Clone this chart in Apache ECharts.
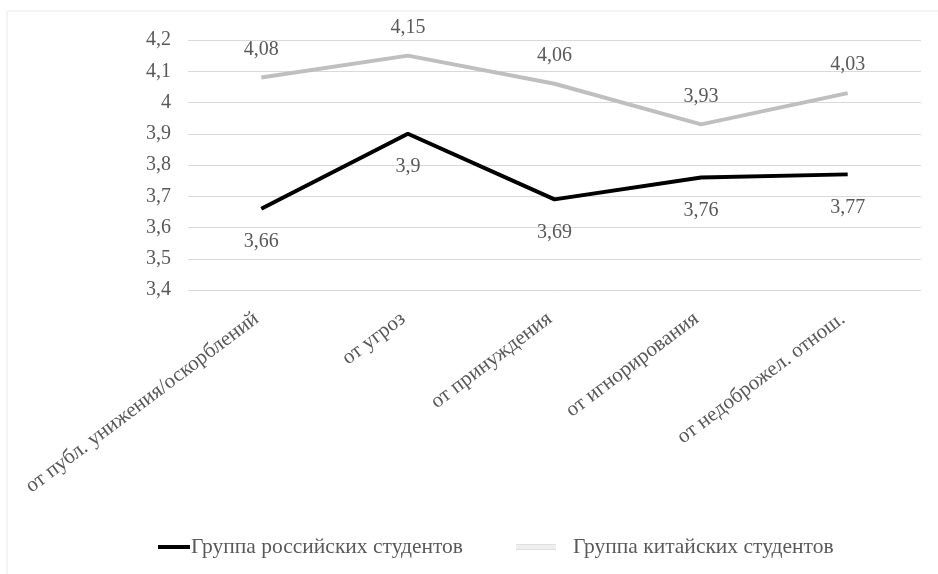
<!DOCTYPE html>
<html>
<head>
<meta charset="utf-8">
<script src="https://cdn.jsdelivr.net/npm/echarts@6/dist/echarts.min.js"></script>
<style>
html,body{margin:0;padding:0;background:#fff;}
#chart{width:938px;height:574px;}
</style>
</head>
<body>
<div id="chart"></div>
<script>
var categories = ['от публ. унижения/оскорблений', 'от угроз', 'от принуждения', 'от игнорирования', 'от недоброжел. отнош.'];
var russianValues = [3.66, 3.9, 3.69, 3.76, 3.77];
var chineseValues = [4.08, 4.15, 4.06, 3.93, 4.03];
var seriesNames = ['Группа российских студентов', 'Группа китайских студентов'];

var fmt = function (v) { return String(+(+v).toFixed(2)).replace('.', ','); };
var FONT = '"Liberation Serif", "Times New Roman", serif';
var TXT = '#595959';

var chart = echarts.init(document.getElementById('chart'));
chart.setOption({
  animation: false,
  backgroundColor: '#fff',
  textStyle: { fontFamily: FONT },
  graphic: [
    { type: 'line', shape: { x1: 7, y1: 11, x2: 938, y2: 11 }, style: { stroke: '#e8e8e8', lineWidth: 1 } },
    { type: 'line', shape: { x1: 7, y1: 11, x2: 7, y2: 574 }, style: { stroke: '#e8e8e8', lineWidth: 1 } }
  ],
  grid: { left: 188, right: 17, top: 40, bottom: 284, containLabel: false },
  legend: [
    {
      data: [{ name: seriesNames[0], icon: 'rect' }],
      left: 153, top: 531, itemWidth: 32, itemHeight: 4, itemGap: 0,
      textStyle: { fontFamily: FONT, fontSize: 21.5, color: TXT, padding: [0, 0, 0, -4] }
    },
    {
      data: [{ name: seriesNames[1], icon: 'path://M0,0H56V1H0Z M0,3H56V4H0Z M0,6H56V7H0Z' }],
      left: 511, top: 531, itemWidth: 58, itemHeight: 5, itemGap: 0,
      textStyle: { fontFamily: FONT, fontSize: 21.5, color: TXT, padding: [0, 0, 0, 3] }
    }
  ],
  xAxis: {
    type: 'category',
    data: categories,
    boundaryGap: true,
    axisLine: { show: false },
    axisTick: { show: false },
    axisLabel: { rotate: 37, margin: 23, interval: 0, padding: [0, 6, 0, 0], fontFamily: FONT, fontSize: 21, color: TXT }
  },
  yAxis: {
    type: 'value',
    min: 3.4, max: 4.2, interval: 0.1,
    axisLine: { show: false },
    axisTick: { show: false },
    splitLine: { lineStyle: { color: '#d9d9d9', width: 1 } },
    axisLabel: { margin: 17, padding: [3, 0, 0, 0], fontFamily: FONT, fontSize: 20, color: TXT, formatter: function (v) { return fmt(v); } }
  },
  series: [
    {
      name: seriesNames[0], type: 'line', data: russianValues,
      symbol: 'circle', symbolSize: 0, showSymbol: true,
      lineStyle: { color: '#000', width: 4 }, itemStyle: { color: '#000' },
      label: { show: true, position: 'bottom', distance: 23, fontFamily: FONT, fontSize: 20, color: TXT, formatter: function (p) { return fmt(p.value); } }
    },
    {
      name: seriesNames[1], type: 'line', data: chineseValues,
      symbol: 'circle', symbolSize: 0, showSymbol: true,
      lineStyle: { color: '#bfbfbf', width: 4 }, itemStyle: { color: '#bfbfbf' },
      label: { show: true, position: 'top', distance: 18, fontFamily: FONT, fontSize: 20, color: TXT, formatter: function (p) { return fmt(p.value); } }
    }
  ]
});
</script>
</body>
</html>
